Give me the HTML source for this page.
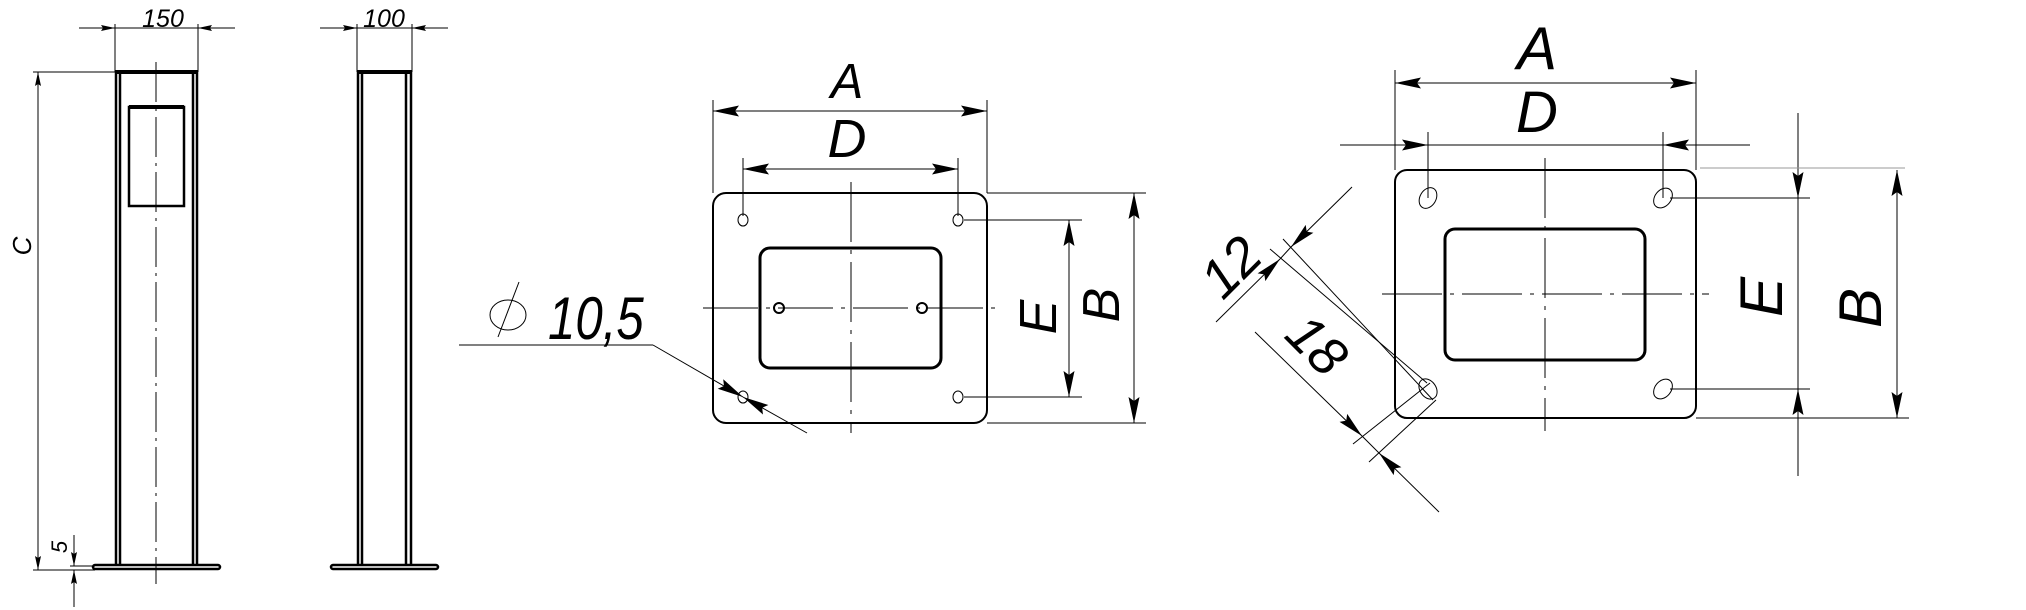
<!DOCTYPE html>
<html><head><meta charset="utf-8"><style>
html,body{margin:0;padding:0;background:#fff;}
svg{display:block;}
text{font-family:"Liberation Sans",sans-serif;font-style:italic;fill:#000;}
</style></head><body>
<svg width="2026" height="610" viewBox="0 0 2026 610" xmlns="http://www.w3.org/2000/svg">
<defs>
<marker id="b" markerUnits="userSpaceOnUse" markerWidth="30" markerHeight="14" refX="28" refY="7" orient="auto-start-reverse" viewBox="0 0 30 14"><path d="M28,7 L2,1.5 L6,7 L2,12.5 Z" fill="#000"/></marker>
<marker id="s" markerUnits="userSpaceOnUse" markerWidth="16" markerHeight="8" refX="15" refY="4" orient="auto-start-reverse" viewBox="0 0 16 8"><path d="M15,4 L1,1 L3,4 L1,7 Z" fill="#000"/></marker>
</defs>
<g fill="none" stroke="#000">
<!-- LEFT POST -->
<g stroke-width="2.5">
<line x1="115" y1="72" x2="198" y2="72" stroke-width="4"/>
<line x1="116" y1="72" x2="116" y2="566"/><line x1="120" y1="74" x2="120" y2="566"/>
<line x1="193" y1="74" x2="193" y2="566"/><line x1="197" y1="72" x2="197" y2="566"/>
<rect x="93" y="565" width="127" height="4" rx="2"/>
<rect x="129" y="107" width="55" height="99"/>
<line x1="129" y1="107" x2="184" y2="107" stroke-width="4"/>
</g>
<line x1="156" y1="62" x2="156" y2="584" stroke-width="1" stroke-dasharray="40,6,3,6"/>
<g stroke-width="1">
<line x1="115" y1="24" x2="115" y2="72"/><line x1="198" y1="24" x2="198" y2="72"/>
<line x1="79" y1="28" x2="115" y2="28" marker-end="url(#s)"/>
<line x1="235" y1="28" x2="198" y2="28" marker-end="url(#s)"/>
<line x1="115" y1="28" x2="198" y2="28"/>
<line x1="33" y1="72" x2="115" y2="72"/><line x1="33" y1="570" x2="95" y2="570"/>
<line x1="38" y1="72" x2="38" y2="570" marker-start="url(#s)" marker-end="url(#s)"/>
<line x1="74" y1="535" x2="74" y2="566" marker-end="url(#s)"/>
<line x1="74" y1="607" x2="74" y2="570" marker-end="url(#s)"/>
<line x1="70" y1="566" x2="95" y2="566"/>
</g>
<!-- SIDE POST -->
<g stroke-width="2.5">
<line x1="357" y1="72" x2="412" y2="72" stroke-width="4"/>
<line x1="358" y1="72" x2="358" y2="566"/><line x1="362" y1="74" x2="362" y2="566"/>
<line x1="406" y1="74" x2="406" y2="566"/><line x1="411" y1="72" x2="411" y2="566"/>
<rect x="331" y="565" width="107" height="4" rx="2"/>
</g>
<g stroke-width="1">
<line x1="357" y1="24" x2="357" y2="72"/><line x1="412" y1="24" x2="412" y2="72"/>
<line x1="320" y1="28" x2="357" y2="28" marker-end="url(#s)"/>
<line x1="448" y1="28" x2="412" y2="28" marker-end="url(#s)"/>
<line x1="357" y1="28" x2="412" y2="28"/>
</g>
<!-- MIDDLE PLATE -->
<rect x="713" y="193" width="274" height="230" rx="13" stroke-width="2"/>
<rect x="760" y="248" width="181" height="120" rx="10" stroke-width="3"/>
<g stroke-width="1">
<line x1="851" y1="182" x2="851" y2="433" stroke-dasharray="60,8,4,8"/>
<line x1="703" y1="308" x2="1001" y2="308" stroke-dasharray="55,8,4,8"/>
<ellipse cx="743" cy="220" rx="5" ry="6"/><ellipse cx="958" cy="220" rx="5" ry="6"/>
<ellipse cx="743" cy="397" rx="5" ry="6"/><ellipse cx="958" cy="397" rx="5" ry="6"/>
<line x1="713" y1="100" x2="713" y2="193"/><line x1="987" y1="100" x2="987" y2="193"/>
<line x1="713" y1="111" x2="987" y2="111" marker-start="url(#b)" marker-end="url(#b)"/>
<line x1="743" y1="158" x2="743" y2="216"/><line x1="958" y1="158" x2="958" y2="216"/>
<line x1="743" y1="169" x2="958" y2="169" marker-start="url(#b)" marker-end="url(#b)"/>
<line x1="964" y1="220" x2="1082" y2="220"/><line x1="964" y1="397" x2="1082" y2="397"/>
<line x1="1069" y1="220" x2="1069" y2="397" marker-start="url(#b)" marker-end="url(#b)"/>
<line x1="987" y1="193" x2="1146" y2="193"/><line x1="987" y1="423" x2="1146" y2="423"/>
<line x1="1134" y1="193" x2="1134" y2="423" marker-start="url(#b)" marker-end="url(#b)"/>
<line x1="459" y1="345" x2="653" y2="345"/>
<line x1="653" y1="345" x2="743" y2="397" marker-end="url(#b)"/>
<line x1="807" y1="433" x2="743" y2="397" marker-end="url(#b)"/>
<ellipse cx="508" cy="315" rx="18" ry="15"/>
<line x1="498" y1="337" x2="519" y2="282"/>
</g>
<circle cx="779" cy="308" r="5" stroke-width="2"/><circle cx="922" cy="308" r="5" stroke-width="2"/>
<!-- RIGHT PLATE -->
<rect x="1395" y="170" width="301" height="248" rx="12" stroke-width="2"/>
<rect x="1445" y="229" width="200" height="131" rx="10" stroke-width="3"/>
<g stroke-width="1">
<line x1="1545" y1="158" x2="1545" y2="431" stroke-dasharray="60,8,4,8"/>
<line x1="1382" y1="294" x2="1709" y2="294" stroke-dasharray="60,8,4,8"/>
<ellipse cx="1428" cy="198" rx="8" ry="11" transform="rotate(30 1428 198)"/>
<ellipse cx="1663" cy="198" rx="8" ry="11" transform="rotate(40 1663 198)"/>
<ellipse cx="1428" cy="389" rx="8" ry="11" transform="rotate(-35 1428 389)"/>
<ellipse cx="1663" cy="389" rx="8" ry="11" transform="rotate(40 1663 389)"/>
<line x1="1395" y1="70" x2="1395" y2="170"/><line x1="1696" y1="70" x2="1696" y2="170"/>
<line x1="1395" y1="83" x2="1696" y2="83" marker-start="url(#b)" marker-end="url(#b)"/>
<line x1="1428" y1="132" x2="1428" y2="198"/><line x1="1663" y1="132" x2="1663" y2="198"/>
<line x1="1340" y1="145" x2="1428" y2="145" marker-end="url(#b)"/>
<line x1="1750" y1="145" x2="1663" y2="145" marker-end="url(#b)"/>
<line x1="1428" y1="145" x2="1663" y2="145"/>
<line x1="1670" y1="198" x2="1810" y2="198"/><line x1="1670" y1="389" x2="1810" y2="389"/>
<line x1="1798" y1="113" x2="1798" y2="198" marker-end="url(#b)"/>
<line x1="1798" y1="476" x2="1798" y2="389" marker-end="url(#b)"/>
<line x1="1798" y1="198" x2="1798" y2="389"/>
<line x1="1696" y1="418" x2="1909" y2="418"/>
<line x1="1700" y1="168" x2="1905" y2="168" stroke="#999"/>
<line x1="1897" y1="170" x2="1897" y2="418" marker-start="url(#b)" marker-end="url(#b)"/>
<!-- 12 / 18 -->
<line x1="1352" y1="187" x2="1291" y2="247" marker-end="url(#b)"/>
<line x1="1216" y1="322" x2="1280" y2="259" marker-end="url(#b)"/>
<line x1="1291" y1="247" x2="1280" y2="259"/>
<line x1="1270" y1="249" x2="1427" y2="383"/>
<line x1="1283" y1="239" x2="1433" y2="400"/>
<line x1="1255" y1="332" x2="1362" y2="436" marker-end="url(#b)"/>
<line x1="1439" y1="512" x2="1379" y2="453" marker-end="url(#b)"/>
<line x1="1362" y1="436" x2="1379" y2="453"/>
<line x1="1353" y1="444" x2="1430" y2="383"/>
<line x1="1369" y1="462" x2="1436" y2="400"/>
</g>
</g>
<!-- TEXT -->
<text x="163" y="27" font-size="25" text-anchor="middle">150</text>
<text x="384" y="27" font-size="25" text-anchor="middle">100</text>
<text x="0" y="0" font-size="26" text-anchor="middle" transform="translate(31,246) rotate(-90)">C</text>
<text x="0" y="0" font-size="22" text-anchor="middle" transform="translate(67,547) rotate(-90)">5</text>
<text x="847" y="98" font-size="49" text-anchor="middle">A</text>
<text x="847" y="157" font-size="54" text-anchor="middle">D</text>
<text x="0" y="0" font-size="52" text-anchor="middle" transform="translate(1056,317) rotate(-90)">E</text>
<text x="0" y="0" font-size="52" text-anchor="middle" transform="translate(1119,305) rotate(-90)">B</text>
<text x="0" y="0" font-size="60" transform="translate(548,339) scale(0.82,1)">10,5</text>
<text x="1537" y="69" font-size="60" text-anchor="middle">A</text>
<text x="1537" y="132" font-size="58" text-anchor="middle">D</text>
<text x="0" y="0" font-size="60" text-anchor="middle" transform="translate(1782,297) rotate(-90)">E</text>
<text x="0" y="0" font-size="60" text-anchor="middle" transform="translate(1881,308) rotate(-90)">B</text>
<text x="0" y="0" font-size="54" text-anchor="middle" transform="translate(1244,280) rotate(-45)">12</text>
<text x="0" y="0" font-size="54" text-anchor="middle" transform="translate(1304,358) rotate(45)">18</text>
</svg>
</body></html>
